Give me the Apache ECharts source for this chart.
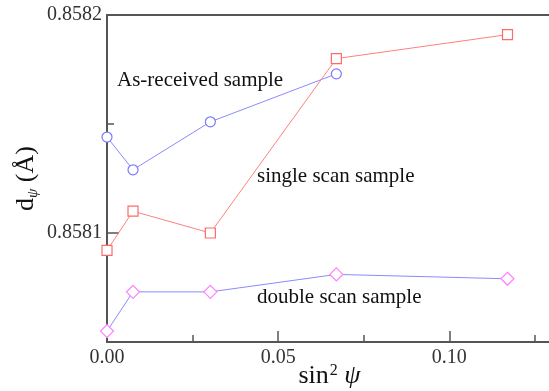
<!DOCTYPE html>
<html>
<head>
<meta charset="utf-8">
<script src="https://cdn.jsdelivr.net/npm/echarts@6/dist/echarts.min.js"></script>
<style>
  html, body { margin: 0; padding: 0; background: #fff; }
  #chart { width: 549px; height: 391px; }
</style>
</head>
<body>
<div id="chart"></div>
<script>
// sin^2(psi) for psi = 0, 5, 10, 15, 20 deg
const sin2psi = [0, 0.0076, 0.0302, 0.0670, 0.1170];
const asReceived = [0.858144, 0.858129, 0.858151, 0.858173];
const singleScan = [0.858092, 0.858110, 0.858100, 0.858180, 0.858191];
const doubleScan = [0.858055, 0.858073, 0.858073, 0.858081, 0.858079];

const xMajorTicks = [0, 0.05, 0.10];
const xMinorTicks = [0.025, 0.075, 0.125];
const yMajorTicks = [0.8581, 0.8582];
const yMinorTicks = [0.85815];

const FONT = '"Liberation Serif", "DejaVu Serif", serif';
const AXIS_COLOR = '#555';

const pairs = (ys) => ys.map((y, i) => [sin2psi[i], y]);

const chart = echarts.init(document.getElementById('chart'));

const xBase = {
  type: 'value',
  min: 0,
  max: 0.13,
  splitLine: { show: false },
  axisLine: { onZero: false }
};
const yBase = {
  type: 'value',
  min: 0.85805,
  max: 0.8582,
  splitLine: { show: false },
  axisLine: { onZero: false }
};

chart.setOption({
  animation: false,
  grid: {
    left: 107,
    right: -3,
    top: 15,
    bottom: 49,
    outerBoundsMode: 'none',
    containLabel: false,
    show: true,
    borderColor: AXIS_COLOR,
    borderWidth: 2,
    backgroundColor: 'transparent'
  },
  xAxis: [
    {
      ...xBase,
      position: 'bottom',
      axisLine: { onZero: false, lineStyle: { color: AXIS_COLOR, width: 2 } },
      axisTick: { inside: true, length: 11, customValues: xMajorTicks, lineStyle: { color: AXIS_COLOR, width: 1.5 } },
      axisLabel: {
        customValues: xMajorTicks,
        margin: 6,
        color: '#333',
        fontFamily: FONT,
        fontSize: 20,
        formatter: (v) => v.toFixed(2)
      },
      name: '{t|sin}{sup|2}{t| }{psi|ψ}',
      nameLocation: 'middle',
      nameGap: 21,
      nameMoveOverlap: false,
      nameTextStyle: {
        rich: {
          t: { fontFamily: FONT, fontSize: 26, color: '#111', lineHeight: 26 },
          sup: { fontFamily: FONT, fontSize: 16, color: '#111', verticalAlign: 'top', lineHeight: 26, padding: [0, 0, 10, 1] },
          psi: { fontFamily: FONT, fontSize: 26, fontStyle: 'italic', color: '#111', lineHeight: 26 }
        }
      }
    },
    {
      ...xBase,
      position: 'bottom',
      axisLine: { show: false },
      axisTick: { inside: true, length: 7, customValues: xMinorTicks, lineStyle: { color: AXIS_COLOR, width: 1.5 } },
      axisLabel: { show: false }
    }
  ],
  yAxis: [
    {
      ...yBase,
      position: 'left',
      axisLine: { onZero: false, lineStyle: { color: AXIS_COLOR, width: 2 } },
      axisTick: { inside: true, length: 12, customValues: yMajorTicks, lineStyle: { color: AXIS_COLOR, width: 1.5 } },
      axisLabel: {
        customValues: yMajorTicks,
        margin: 5,
        color: '#333',
        fontFamily: FONT,
        fontSize: 20,
        formatter: (v) => v.toFixed(4)
      },
      name: '{t|d}{sub|ψ}{t| (Å)}',
      nameLocation: 'middle',
      nameGap: 66,
      nameRotate: 90,
      nameMoveOverlap: false,
      nameTextStyle: {
        rich: {
          t: { fontFamily: FONT, fontSize: 26, color: '#111', lineHeight: 30 },
          sub: { fontFamily: FONT, fontSize: 15, fontStyle: 'italic', color: '#111', verticalAlign: 'bottom', lineHeight: 30, padding: [10, 0, 0, 0] }
        }
      }
    },
    {
      ...yBase,
      position: 'left',
      axisLine: { show: false },
      axisTick: { inside: true, length: 7, customValues: yMinorTicks, lineStyle: { color: AXIS_COLOR, width: 1.5 } },
      axisLabel: { show: false }
    }
  ],
  graphic: [
    { type: 'text', left: 117, top: 70, style: { text: 'As-received sample', fontFamily: FONT, fontSize: 21, fill: '#111' } },
    { type: 'text', left: 257, top: 166, style: { text: 'single scan sample', fontFamily: FONT, fontSize: 21, fill: '#111' } },
    { type: 'text', left: 257, top: 287, style: { text: 'double scan sample', fontFamily: FONT, fontSize: 21, fill: '#111' } }
  ],
  series: [
    {
      name: 'As-received sample',
      type: 'line',
      data: pairs(asReceived),
      symbol: 'circle',
      symbolSize: 10,
      lineStyle: { color: '#8a8aff', width: 1 },
      itemStyle: { color: '#fff', borderColor: '#7a7aff', borderWidth: 1.2 }
    },
    {
      name: 'single scan sample',
      type: 'line',
      data: pairs(singleScan),
      symbol: 'rect',
      symbolSize: 10,
      lineStyle: { color: '#ff8080', width: 1 },
      itemStyle: { color: '#fff', borderColor: '#ff6a6a', borderWidth: 1.2 }
    },
    {
      name: 'double scan sample',
      type: 'line',
      data: pairs(doubleScan),
      symbol: 'diamond',
      symbolSize: 13,
      lineStyle: { color: '#8a8aff', width: 1 },
      itemStyle: { color: '#fff', borderColor: '#ff80ff', borderWidth: 1.2 }
    }
  ]
});
</script>
</body>
</html>
